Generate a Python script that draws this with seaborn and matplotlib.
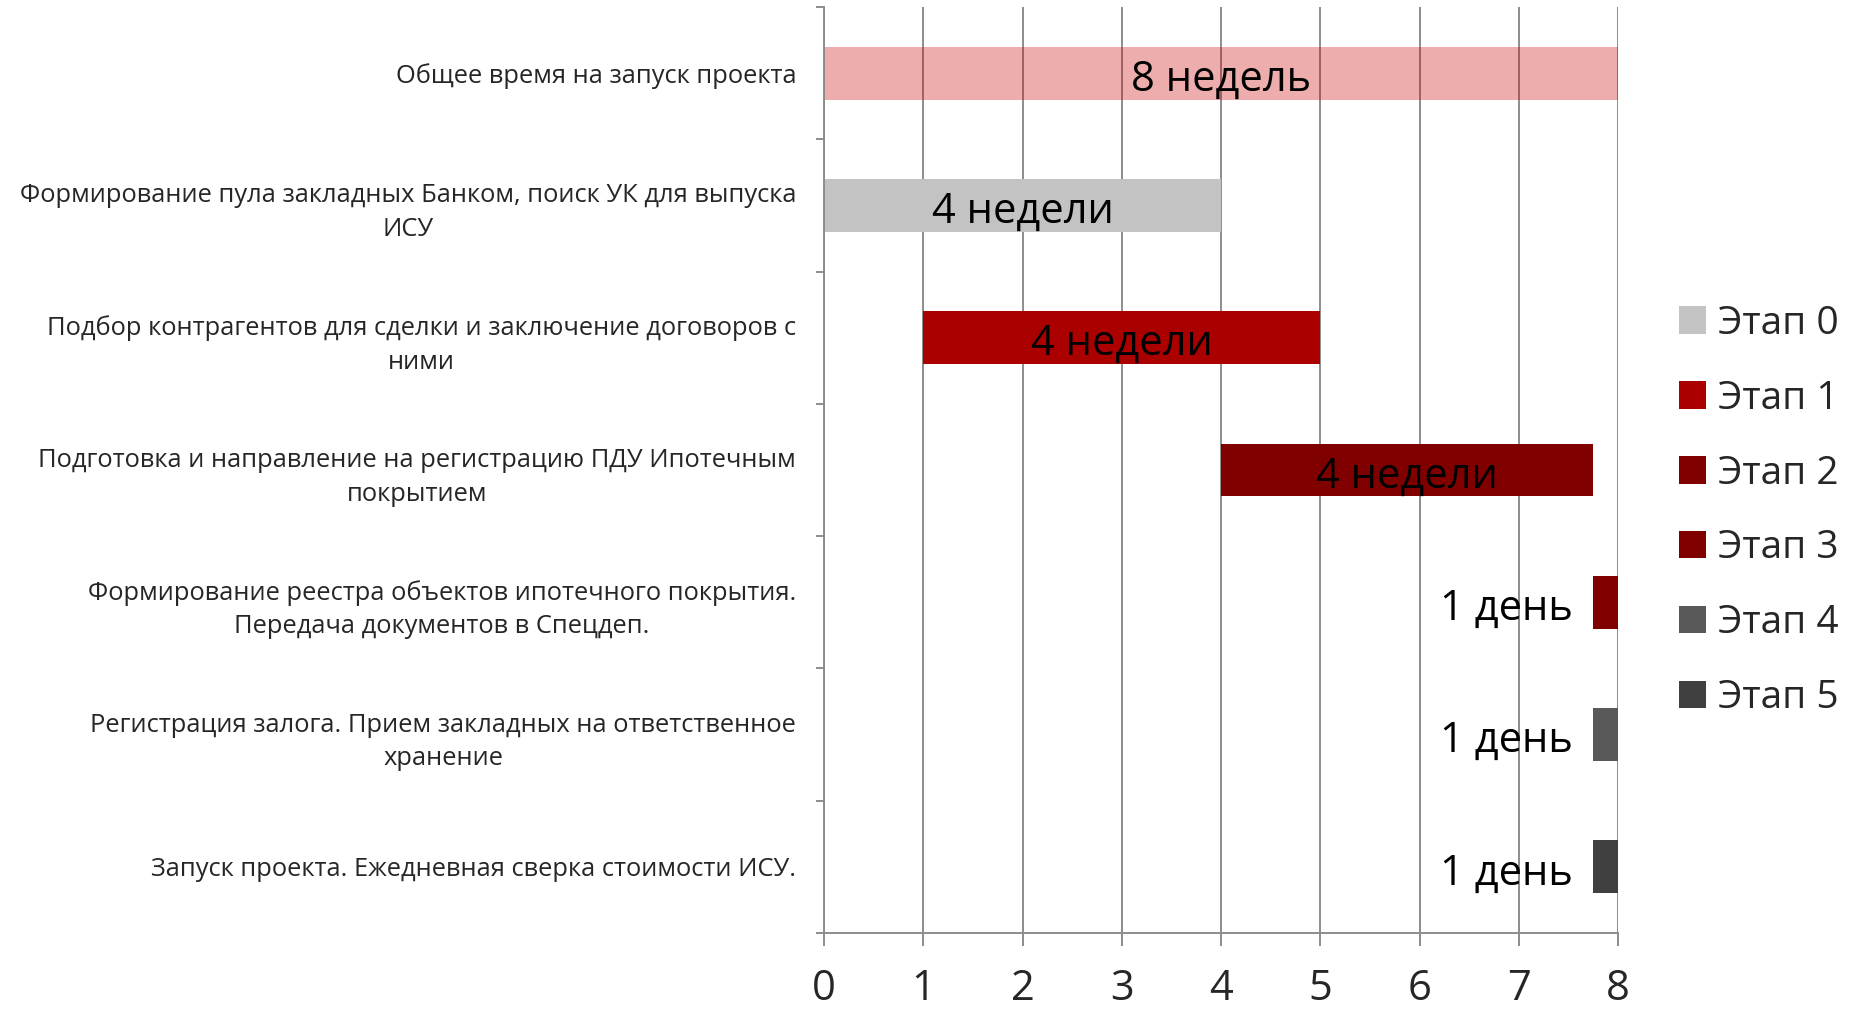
import matplotlib
matplotlib.use("Agg")
import matplotlib.pyplot as plt
from matplotlib.patches import Patch
import seaborn as sns
import pandas as pd

# Tasks (top to bottom), start week and duration in weeks
tasks = [
    "Общее время на запуск проекта",
    "Формирование пула закладных Банком, поиск УК для выпуска\nИСУ",
    "Подбор контрагентов для сделки и заключение договоров с\nними",
    "Подготовка и направление на регистрацию ПДУ Ипотечным\nпокрытием",
    "Формирование реестра объектов ипотечного покрытия.\nПередача документов в Спецдеп.",
    "Регистрация залога. Прием закладных на ответственное\nхранение",
    "Запуск проекта. Ежедневная сверка стоимости ИСУ.",
]
starts = [0, 0, 1, 4, 7.75, 7.75, 7.75]
durations = [8, 4, 4, 3.75, 0.25, 0.25, 0.25]
bar_labels = ["8 недель", "4 недели", "4 недели", "4 недели", "1 день", "1 день", "1 день"]
bar_colors = [(0.8, 0.0, 0.0, 0.32), "#C3C3C3", "#AA0000", "#800000", "#800000", "#595959", "#404040"]

legend_labels = ["Этап 0", "Этап 1", "Этап 2", "Этап 3", "Этап 4", "Этап 5"]
legend_colors = ["#C3C3C3", "#AA0000", "#800000", "#800000", "#595959", "#404040"]

x_ticks = [0, 1, 2, 3, 4, 5, 6, 7, 8]

df = pd.DataFrame({"task": tasks, "start": starts, "dur": durations})

sns.set_theme(style="white")
plt.rcParams["font.family"] = ["Open Sans", "DejaVu Sans"]

grey = "#8C8C8C"
fig = plt.figure(figsize=(18.52, 10.11), dpi=100)
ax = fig.add_axes([824 / 1852, 1 - 933 / 1011, (1618 - 824) / 1852, (933 - 7) / 1011])

sns.barplot(data=df, x="dur", y="task", left=df["start"].to_numpy(), width=0.4,
            errorbar=None, color="#C3C3C3", linewidth=0, ax=ax)
for patch, c in zip(ax.patches, bar_colors):
    patch.set_facecolor(c)
    patch.set_edgecolor("none")

# duration labels
for i, (s, d, lab) in enumerate(zip(starts, durations, bar_labels)):
    if d >= 1:
        ax.text(s + d / 2, i + 0.05, lab, ha="center", va="center", fontsize=30, color="black")
    else:
        ax.text(s - 0.2, i + 0.05, lab, ha="right", va="center", fontsize=30, color="black")

ax.set_xlim(0, 8)
ax.set_ylim(6.5, -0.5)
ax.set_xticks(x_ticks)
ax.set_xticklabels([str(t) for t in x_ticks])
ax.set_xlabel("")
ax.set_ylabel("")

ax.grid(axis="x", color=grey, linewidth=1.4)
ax.grid(axis="y", visible=False)
ax.set_axisbelow(True)

for side in ["top", "right"]:
    ax.spines[side].set_visible(False)
for side in ["left", "bottom"]:
    ax.spines[side].set_color(grey)
    ax.spines[side].set_linewidth(1.4)

ax.tick_params(axis="x", which="major", direction="out", length=9, width=1.4, color=grey,
               labelsize=30, pad=16, bottom=True)
ax.tick_params(axis="y", which="major", length=0, labelsize=18.4, pad=20)
ax.set_yticks([i - 0.5 for i in range(len(tasks) + 1)], minor=True)
ax.tick_params(axis="y", which="minor", direction="out", length=6, width=1.4, color=grey, left=True)
for t in ax.get_yticklabels():
    t.set_multialignment("center")
    t.set_linespacing(1.45)

handles = [Patch(facecolor=c, edgecolor="none") for c in legend_colors]
fig.legend(handles, legend_labels, loc="center left", bbox_to_anchor=(1679 / 1852, 1 - 511 / 1011),
           frameon=False, fontsize=28, handlelength=0.7, handleheight=0.7,
           handletextpad=0.3, labelspacing=0.95, borderpad=0, borderaxespad=0)

fig.savefig("out.png", dpi=100)
